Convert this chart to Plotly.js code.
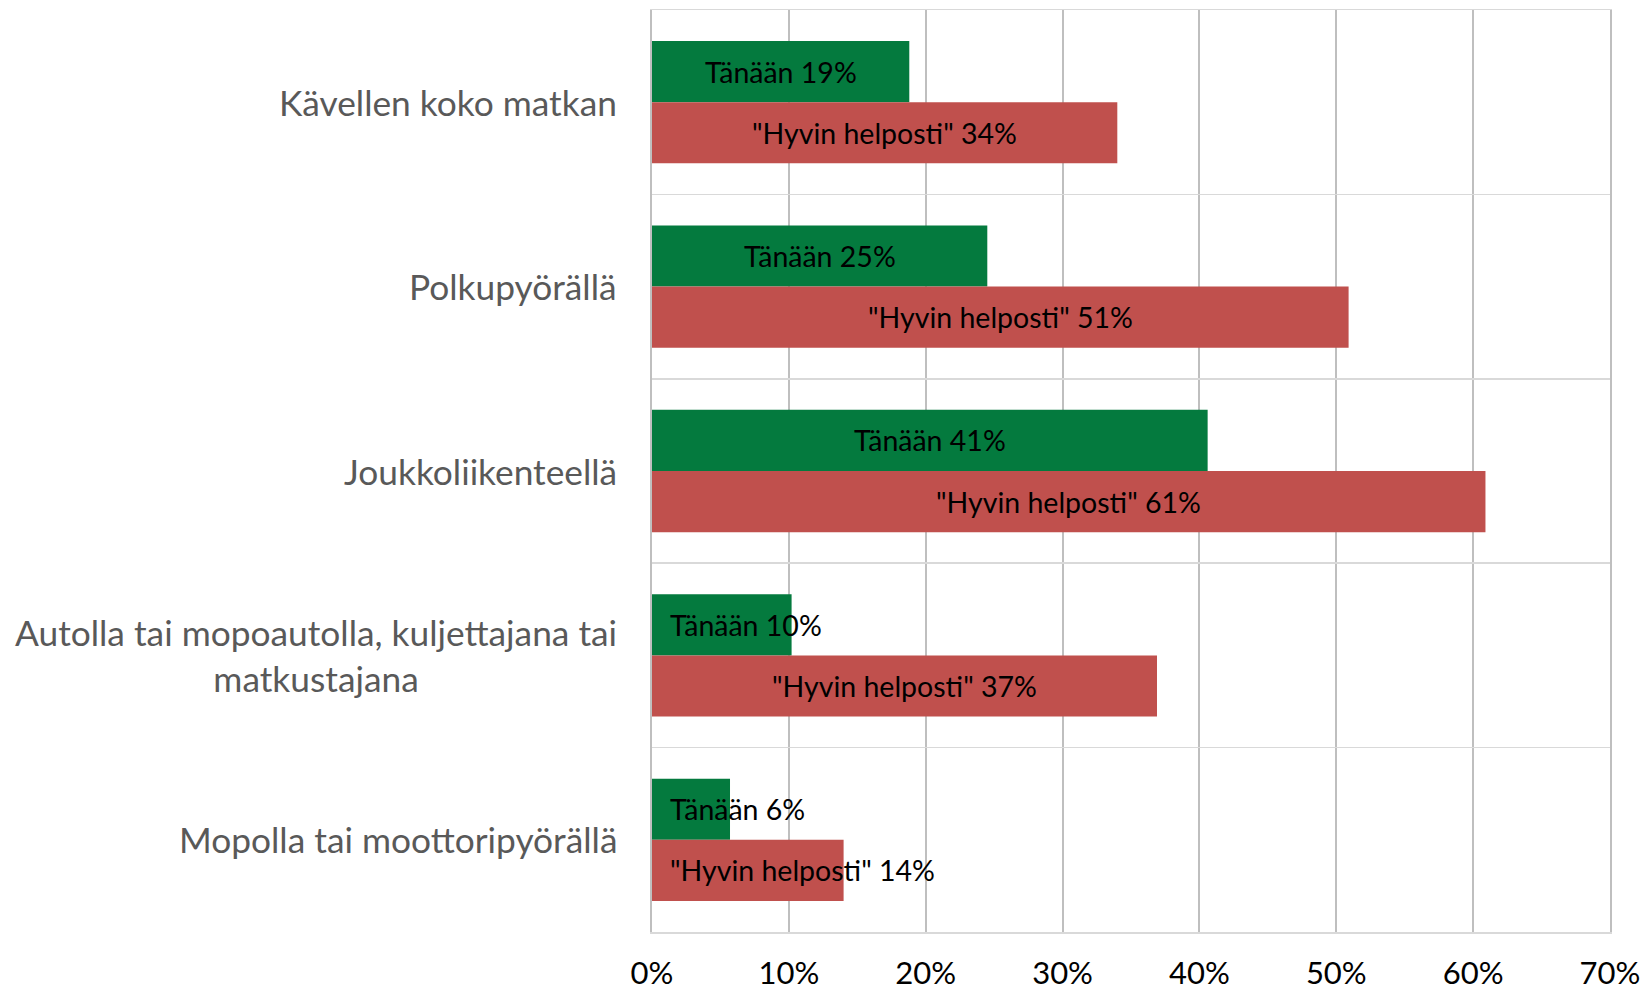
<!DOCTYPE html>
<html><head><meta charset="utf-8">
<script src="https://cdn.plot.ly/plotly-3.0.1.min.js"></script>
<style>html,body{margin:0;padding:0;background:#fff;}#chart{width:1648px;height:995px;}</style>
</head><body><div id="chart"></div>
<script>
// ---- data ----
const categories = ["Kävellen koko matkan", "Polkupyörällä", "Joukkoliikenteellä", "Autolla tai mopoautolla, kuljettajana tai matkustajana", "Mopolla tai moottoripyörällä"];
const categoryLabels = ["Kävellen koko matkan", "Polkupyörällä", "Joukkoliikenteellä", "Autolla tai mopoautolla, kuljettajana tai<br>matkustajana", "Mopolla tai moottoripyörällä"];
const tanaanValues = [18.8, 24.5, 40.6, 10.2, 5.7];
const helpostiValues = [34.0, 50.9, 60.9, 36.9, 14.0];
const tanaanLabels = ["Tänään 19%", "Tänään 25%", "Tänään 41%", "Tänään 10%", "Tänään 6%"];
const helpostiLabels = ['"Hyvin helposti" 34%', '"Hyvin helposti" 51%', '"Hyvin helposti" 61%', '"Hyvin helposti" 37%', '"Hyvin helposti" 14%'];
const xTickVals = [0, 10, 20, 30, 40, 50, 60, 70];

// ---- style ----
const W = 1648, H = 995;
const M = {l: 652, r: 38, t: 10, b: 63};
const X_MAX = 70;
const BARGAP = 0.337;
const FONT = "Lato, 'Open Sans', sans-serif";
const LABEL_SIZE = 28.5;
const green = '#047a3e', red = '#c0504d';

const traces = [
  {type: 'bar', orientation: 'h', name: 'Tänään', y: categories, x: tanaanValues,
   marker: {color: green}, hoverinfo: 'skip'},
  {type: 'bar', orientation: 'h', name: '"Hyvin helposti"', y: categories, x: helpostiValues,
   marker: {color: red}, hoverinfo: 'skip'}
];

const ctx = document.createElement('canvas').getContext('2d');
ctx.font = LABEL_SIZE + 'px Lato';
const pxPerUnit = (W - M.l - M.r) / X_MAX;
const barHalf = (1 - BARGAP) / 4; // centre offset of each bar within a group
const annotations = [];

function dataLabel(values, labels, i, sign) {
  const w = ctx.measureText(labels[i]).width;
  const centrePx = values[i] / 2 * pxPerUnit;
  const shift = Math.max(0, 18 + w / 2 - centrePx);
  annotations.push({
    x: values[i] / 2, y: i + sign * barHalf, xref: 'x', yref: 'y',
    text: labels[i], showarrow: false, xanchor: 'center', yanchor: 'middle',
    xshift: shift, font: {family: FONT, size: LABEL_SIZE, color: '#000'}
  });
}
for (let i = 0; i < categories.length; i++) {
  dataLabel(tanaanValues, tanaanLabels, i, -1);
  dataLabel(helpostiValues, helpostiLabels, i, 1);
  annotations.push({
    x: 0, xref: 'paper', y: categories[i], yref: 'y', text: categoryLabels[i],
    showarrow: false, xanchor: 'right', yanchor: 'middle', align: 'center', xshift: -33,
    font: {family: FONT, size: 35.3, color: '#595959'}
  });
}

const layout = {
  width: W, height: H, margin: M,
  paper_bgcolor: '#fff', plot_bgcolor: '#fff',
  showlegend: false, barmode: 'group', bargap: BARGAP, bargroupgap: 0,
  font: {family: FONT},
  xaxis: {
    range: [0, X_MAX], tickvals: xTickVals, ticktext: xTickVals.map(v => v + '%'),
    showgrid: true, gridcolor: '#bfbfbf', gridwidth: 2, zeroline: false,
    showline: true, mirror: true, linecolor: '#d9d9d9', linewidth: 1.5,
    ticks: '', ticklabelstandoff: 13, fixedrange: true,
    tickfont: {family: FONT, size: 31, color: '#000'}
  },
  yaxis: {
    type: 'category', autorange: 'reversed', tickson: 'boundaries',
    showgrid: true, gridcolor: '#d9d9d9', gridwidth: 1.5, zeroline: false,
    showline: true, mirror: true, linecolor: '#bfbfbf', linewidth: 2,
    showticklabels: false, ticks: '', fixedrange: true
  },
  annotations: annotations
};

Plotly.newPlot('chart', traces, layout, {displayModeBar: false, staticPlot: true});
</script>
</body></html>
